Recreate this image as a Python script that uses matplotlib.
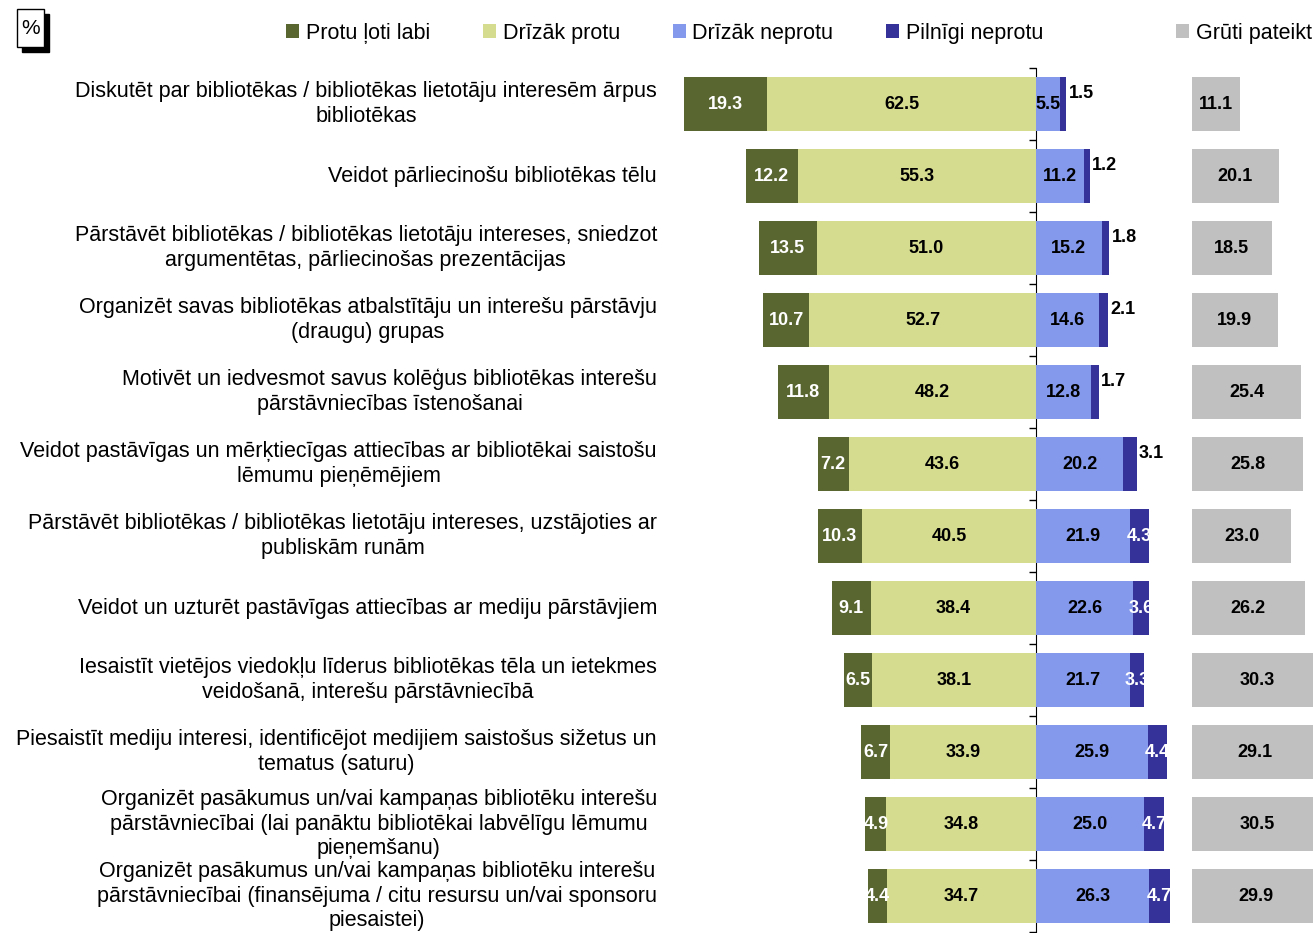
# diverging stacked bars: library advocacy skills self-assessment
import matplotlib
matplotlib.use("Agg")
import matplotlib.pyplot as plt
from matplotlib.patches import Rectangle
import numpy as np

plt.rcParams["font.family"] = ["Liberation Sans", "DejaVu Sans"]

categories = [
    "Diskutēt par bibliotēkas / bibliotēkas lietotāju interesēm ārpus\nbibliotēkas",
    "Veidot pārliecinošu bibliotēkas tēlu",
    "Pārstāvēt bibliotēkas / bibliotēkas lietotāju intereses, sniedzot\nargumentētas, pārliecinošas prezentācijas",
    "Organizēt savas bibliotēkas atbalstītāju un interešu pārstāvju\n(draugu) grupas",
    "Motivēt un iedvesmot savus kolēģus bibliotēkas interešu\npārstāvniecības īstenošanai",
    "Veidot pastāvīgas un mērķtiecīgas attiecības ar bibliotēkai saistošu\nlēmumu pieņēmējiem",
    "Pārstāvēt bibliotēkas / bibliotēkas lietotāju intereses, uzstājoties ar\npubliskām runām",
    "Veidot un uzturēt pastāvīgas attiecības ar mediju pārstāvjiem",
    "Iesaistīt vietējos viedokļu līderus bibliotēkas tēla un ietekmes\nveidošanā, interešu pārstāvniecībā",
    "Piesaistīt mediju interesi, identificējot medijiem saistošus sižetus un\ntematus (saturu)",
    "Organizēt pasākumus un/vai kampaņas bibliotēku interešu\npārstāvniecībai (lai panāktu bibliotēkai labvēlīgu lēmumu\npieņemšanu)",
    "Organizēt pasākumus un/vai kampaņas bibliotēku interešu\npārstāvniecībai (finansējuma / citu resursu un/vai sponsoru\npiesaistei)",
]

very_well = [19.3, 12.2, 13.5, 10.7, 11.8, 7.2, 10.3, 9.1, 6.5, 6.7, 4.9, 4.4]
rather_can = [62.5, 55.3, 51.0, 52.7, 48.2, 43.6, 40.5, 38.4, 38.1, 33.9, 34.8, 34.7]
rather_cannot = [5.5, 11.2, 15.2, 14.6, 12.8, 20.2, 21.9, 22.6, 21.7, 25.9, 25.0, 26.3]
cannot = [1.5, 1.2, 1.8, 2.1, 1.7, 3.1, 4.3, 3.6, 3.3, 4.4, 4.7, 4.7]
hard_to_say = [11.1, 20.1, 18.5, 19.9, 25.4, 25.8, 23.0, 26.2, 30.3, 29.1, 30.5, 29.9]

series_names = ["Protu ļoti labi", "Drīzāk protu", "Drīzāk neprotu", "Pilnīgi neprotu", "Grūti pateikt"]
colors = ["#596630", "#D5DB8F", "#8599EC", "#35339A", "#C0C0C0"]
GRAY_START = 36.2   # where the separate "hard to say" bars begin
XMIN, XMAX = -86.0, 64.3

W, H = 1313, 933
fig = plt.figure(figsize=(W / 100, H / 100), dpi=100)
ax = fig.add_axes([666 / W, 1 / H, (W - 666) / W, (932 - 68) / H])

y = np.arange(len(categories))
vw = np.array(very_well)
rc = np.array(rather_can)
rn = np.array(rather_cannot)
cn = np.array(cannot)
hs = np.array(hard_to_say)
h = 0.74

b1 = ax.barh(y, -vw, left=-rc, height=h, color=colors[0], label=series_names[0])
b2 = ax.barh(y, -rc, height=h, color=colors[1], label=series_names[1])
b3 = ax.barh(y, rn, height=h, color=colors[2], label=series_names[2])
b4 = ax.barh(y, cn, left=rn, height=h, color=colors[3], label=series_names[3])
b5 = ax.barh(y, hs, left=GRAY_START, height=h, color=colors[4], label=series_names[4])

fs_val = 13
kw = dict(fontsize=fs_val, fontweight="bold", va="center", ha="center")
for i in range(len(y)):
    ax.text(-rc[i] - vw[i] / 2, i, f"{vw[i]:.1f}", color="white", **kw)
    ax.text(-rc[i] / 2, i, f"{rc[i]:.1f}", color="black", **kw)
    ax.text(rn[i] / 2, i, f"{rn[i]:.1f}", color="black", **kw)
    if cn[i] >= 3.3:
        ax.text(rn[i] + cn[i] / 2, i, f"{cn[i]:.1f}", color="white", **kw)
    else:
        ax.text(rn[i] + cn[i] + 0.6, i - 0.15, f"{cn[i]:.1f}", color="black",
                fontsize=fs_val, fontweight="bold", va="center", ha="left")
    ax.text(GRAY_START + hs[i] / 2, i, f"{hs[i]:.1f}", color="black", **kw)

ax.set_xlim(XMIN, XMAX)
ax.set_ylim(len(y) - 0.5, -0.5)
ax.set_xticks([])
ax.set_yticks(y)
ax.set_yticklabels(categories, fontsize=15.5, linespacing=1.24)
for lab in ax.get_yticklabels():
    lab.set_multialignment("center")
    lab.set_verticalalignment("center")
ax.tick_params(axis="y", length=0, pad=6.5)
for s in ax.spines.values():
    s.set_visible(False)

# centre line with boundary ticks pointing left
loc = (0 - XMIN) / (XMAX - XMIN)
sec = ax.secondary_yaxis(loc)
sec.set_yticks(np.arange(-0.5, len(y), 1.0))
sec.set_yticklabels([])
sec.tick_params(axis="y", direction="in", length=5, width=1, color="black")
sec.spines["left"].set_linewidth(1)

# legends
leg_kw = dict(loc="center left", frameon=False, fontsize=15.5, handlelength=0.62,
              handleheight=0.62, handletextpad=0.3, borderpad=0, borderaxespad=0)
fig.legend(handles=[b1, b2, b3, b4], bbox_to_anchor=(286 / W, 1 - 33 / H),
           ncol=4, columnspacing=2.45, **leg_kw)
fig.legend(handles=[b5], bbox_to_anchor=(1176 / W, 1 - 33 / H), **leg_kw)

# "%" box with shadow
fig.add_artist(Rectangle((22 / W, 1 - 52 / H), 27 / W, 38 / H, transform=fig.transFigure,
                         facecolor="black", edgecolor="black"))
fig.add_artist(Rectangle((17 / W, 1 - 47 / H), 27 / W, 38 / H, transform=fig.transFigure,
                         facecolor="white", edgecolor="black", linewidth=1))
fig.text(30.5 / W, 1 - 28 / H, "%", fontsize=15, ha="center", va="center")

fig.savefig("out.png", dpi=100)
